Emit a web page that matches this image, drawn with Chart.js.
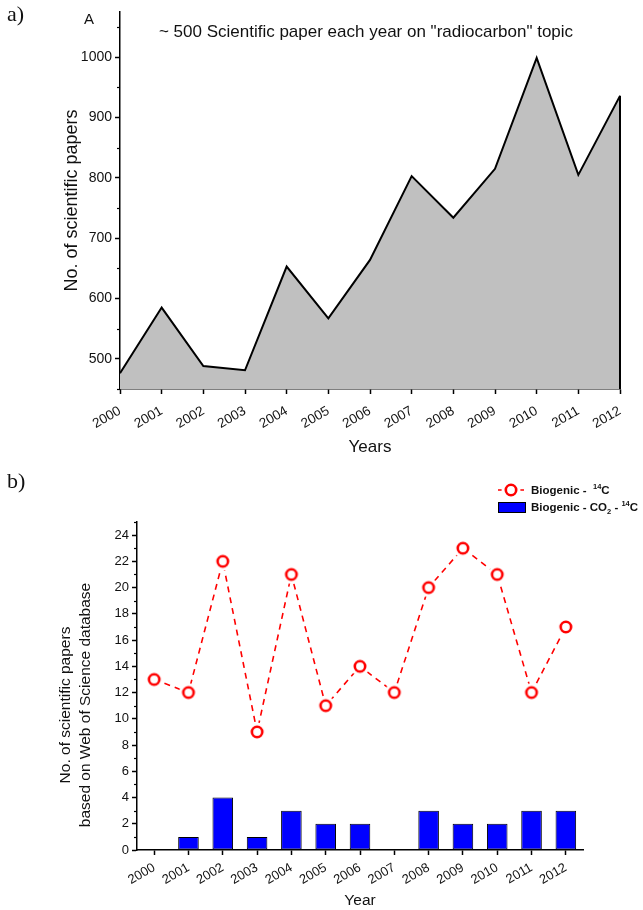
<!DOCTYPE html>
<html>
<head>
<meta charset="utf-8">
<script src="https://cdn.jsdelivr.net/npm/chart.js@4.4.1/dist/chart.umd.min.js"></script>
<style>
    html, body { margin: 0; padding: 0; background: #fff; }
    #wrap { position: relative; width: 643px; height: 910px; }
    canvas { position: absolute; left: 0; }
    #chart-a { top: 0; }
    #chart-b { top: 465px; }
</style>
</head>
<body>
<div id="wrap">
    <canvas id="chart-a" width="643" height="465"></canvas>
    <canvas id="chart-b" width="643" height="445"></canvas>
</div>
<script>
//data
var years = ['2000', '2001', '2002', '2003', '2004', '2005', '2006', '2007', '2008', '2009', '2010', '2011', '2012'];
var papersRadiocarbon = [476, 585, 488, 481, 653, 567, 664, 803, 734, 815, 999, 805, 936];
var biogenic14C = [13, 12, 22, 9, 21, 11, 14, 12, 20, 23, 21, 12, 17];
var biogenicCO2 = [0, 1, 4, 1, 3, 2, 2, 0, 3, 2, 2, 3, 3];
var ticksA = [500, 600, 700, 800, 900, 1000];
var ticksB = [0, 2, 4, 6, 8, 10, 12, 14, 16, 18, 20, 22, 24];

Chart.defaults.font.family = "'Liberation Sans', Arial, sans-serif";
Chart.defaults.color = '#111';

var sansFont = "'Liberation Sans', Arial, sans-serif";
var serifFont = "'Liberation Serif', 'Times New Roman', serif";

//Origin style symbol: open red circle with a white halo so the dashes stop short
function makeCircleSymbol() {
    var c = document.createElement('canvas');
    c.width = 22;
    c.height = 22;
    var g = c.getContext('2d');
    g.fillStyle = '#fff';
    g.beginPath();
    g.arc(11, 11, 9.5, 0, Math.PI * 2);
    g.fill();
    g.strokeStyle = '#ff0000';
    g.lineWidth = 2.6;
    g.beginPath();
    g.arc(11, 11, 5.2, 0, Math.PI * 2);
    g.stroke();
    return c;
}
var circleSymbol = makeCircleSymbol();

//short ticks between the labelled ones on the y axis
var minorTicksPlugin = {
    id: 'minorTicks',
    afterDraw: function (chart, args, opts) {
        var y = chart.scales.y;
        var ctx = chart.ctx;
        ctx.save();
        ctx.strokeStyle = '#000';
        ctx.lineWidth = 1.2;
        for (var v = y.min; v <= y.max + 1e-9; v += opts.step) {
            if (Math.round(v / opts.step) % 2 === 0) continue;
            var py = Math.round(y.getPixelForValue(v)) + 0.5;
            ctx.beginPath();
            ctx.moveTo(y.right - 3, py);
            ctx.lineTo(y.right, py);
            ctx.stroke();
        }
        ctx.restore();
    }
};

function drawLabel(ctx, text, x, y, font, align) {
    ctx.font = font;
    ctx.textAlign = align || 'left';
    ctx.textBaseline = 'middle';
    ctx.fillText(text, x, y);
}

function plainNumber(value) {
    return String(value);
}

var textsA = {
    id: 'textsA',
    afterDatasetsDraw: function (chart) {
        //closing edge of the area at the last year
        var xs = chart.scales.x, ys = chart.scales.y, ctx = chart.ctx;
        var last = papersRadiocarbon.length - 1;
        var px = xs.getPixelForValue(last);
        ctx.save();
        ctx.strokeStyle = '#000';
        ctx.lineWidth = 2;
        ctx.beginPath();
        ctx.moveTo(px, ys.getPixelForValue(papersRadiocarbon[last]));
        ctx.lineTo(px, chart.chartArea.bottom);
        ctx.stroke();
        ctx.restore();
    },
    afterDraw: function (chart) {
        var ctx = chart.ctx;
        ctx.save();
        ctx.fillStyle = '#111';
        drawLabel(ctx, 'a)', 7, 15, '22px ' + serifFont);
        drawLabel(ctx, 'A', 89, 20, '15px ' + sansFont, 'center');
        drawLabel(ctx, '~ 500 Scientific paper each year on "radiocarbon" topic', 366, 32, '17px ' + sansFont, 'center');
        ctx.restore();
    }
};

//legend with super and subscripts, drawn by hand
function drawRich(ctx, parts, x, y) {
    var cx = x;
    for (var i = 0; i < parts.length; i++) {
        var p = parts[i];
        var size = p.k ? 7.5 : 11.5;
        var dy = p.k === 'sup' ? -4.5 : (p.k === 'sub' ? 4 : 0);
        ctx.font = 'bold ' + size + 'px ' + sansFont;
        ctx.textAlign = 'left';
        ctx.textBaseline = 'middle';
        ctx.fillText(p.t, cx, y + dy);
        cx += ctx.measureText(p.t).width;
    }
}

var textsB = {
    id: 'textsB',
    afterDraw: function (chart) {
        var ctx = chart.ctx;
        ctx.save();
        ctx.fillStyle = '#111';
        drawLabel(ctx, 'b)', 7, 17, '22px ' + serifFont);

        //y title, two lines, sits a bit below the middle of the axis
        ctx.save();
        ctx.translate(66, 240);
        ctx.rotate(-Math.PI / 2);
        drawLabel(ctx, 'No. of scientific papers', 0, 0, '15.5px ' + sansFont, 'center');
        drawLabel(ctx, 'based on Web of Science database', 0, 19.5, '15.5px ' + sansFont, 'center');
        ctx.restore();

        //line sample
        ctx.strokeStyle = '#ff0000';
        ctx.lineWidth = 1.6;
        ctx.setLineDash([6, 5]);
        ctx.beginPath();
        ctx.moveTo(498, 25);
        ctx.lineTo(524, 25);
        ctx.stroke();
        ctx.setLineDash([]);
        ctx.drawImage(circleSymbol, 511 - 11, 25 - 11);

        //bar sample
        ctx.fillStyle = '#0000ff';
        ctx.fillRect(498, 37, 28, 11);
        ctx.strokeStyle = '#000';
        ctx.lineWidth = 1;
        ctx.strokeRect(498.5, 37.5, 27, 10);

        ctx.fillStyle = '#111';
        drawRich(ctx, [{ t: 'Biogenic -  ' }, { t: '14', k: 'sup' }, { t: 'C' }], 531, 26);
        drawRich(ctx, [{ t: 'Biogenic - CO' }, { t: '2', k: 'sub' }, { t: ' - ' }, { t: '14', k: 'sup' }, { t: 'C' }], 531, 43);
        ctx.restore();
    }
};

var axisLine = { display: true, color: '#000', width: 1.5 };
var tickGrid = { display: true, drawOnChartArea: false, drawTicks: true, tickLength: 5, tickColor: '#000', tickWidth: 1.5 };

var chartA = new Chart(document.getElementById('chart-a').getContext('2d'), {
    type: 'line',
    data: {
        labels: years,
        datasets: [{
            data: papersRadiocarbon,
            borderColor: '#000',
            borderWidth: 2,
            backgroundColor: '#c0c0c0',
            fill: 'start',
            pointRadius: 0,
            tension: 0
        }]
    },
    options: {
        responsive: false,
        animation: false,
        events: [],
        layout: { padding: { top: 12, right: 23, left: 0, bottom: 0 } },
        plugins: {
            legend: { display: false },
            tooltip: { enabled: false },
            minorTicks: { step: 50 }
        },
        scales: {
            x: {
                offset: false,
                grid: tickGrid,
                border: axisLine,
                ticks: { minRotation: 30, maxRotation: 30, padding: 9, font: { size: 13.5 }, autoSkip: false },
                title: { display: true, text: 'Years', font: { size: 17 }, padding: { top: 0, bottom: 7 } },
                afterFit: function (s) { s.height = 76; }
            },
            y: {
                min: 450,
                max: 1075,
                grid: tickGrid,
                border: axisLine,
                ticks: { padding: 3, font: { size: 14 }, callback: plainNumber },
                afterBuildTicks: function (s) { s.ticks = ticksA.map(function (v) { return { value: v }; }); },
                title: { display: true, text: 'No. of scientific papers', font: { size: 18 }, padding: { top: 61, bottom: 0 } },
                afterFit: function (s) { s.width = 120; }
            }
        }
    },
    plugins: [minorTicksPlugin, textsA]
});

var chartB = new Chart(document.getElementById('chart-b').getContext('2d'), {
    type: 'bar',
    data: {
        labels: years,
        datasets: [{
            type: 'line',
            label: 'Biogenic - 14C',
            data: biogenic14C,
            order: 0,
            borderColor: '#ff0000',
            borderWidth: 1.6,
            borderDash: [6, 5],
            pointStyle: circleSymbol,
            pointRadius: 6,
            tension: 0,
            fill: false
        }, {
            type: 'bar',
            label: 'Biogenic - CO2 - 14C',
            data: biogenicCO2,
            order: 1,
            backgroundColor: '#0000ff',
            borderColor: '#000',
            borderWidth: 1,
            borderSkipped: false,
            categoryPercentage: 1,
            barPercentage: 0.6
        }]
    },
    options: {
        responsive: false,
        animation: false,
        events: [],
        layout: { padding: { top: 57, right: 60, left: 0, bottom: 0 } },
        plugins: {
            legend: { display: false },
            tooltip: { enabled: false },
            minorTicks: { step: 1 }
        },
        scales: {
            x: {
                offset: true,
                grid: Object.assign({}, tickGrid, { offset: false }),
                border: axisLine,
                ticks: { minRotation: 30, maxRotation: 30, padding: 5, font: { size: 13 }, autoSkip: false },
                title: { display: true, text: 'Year', font: { size: 15.5 }, padding: { top: 0, bottom: 0 } },
                afterFit: function (s) { s.height = 60; }
            },
            y: {
                min: 0,
                max: 25,
                grid: tickGrid,
                border: axisLine,
                ticks: { padding: 3, font: { size: 13 }, callback: plainNumber },
                afterBuildTicks: function (s) { s.ticks = ticksB.map(function (v) { return { value: v }; }); },
                afterFit: function (s) { s.width = 137; }
            }
        }
    },
    plugins: [minorTicksPlugin, textsB]
});
</script>
</body>
</html>
